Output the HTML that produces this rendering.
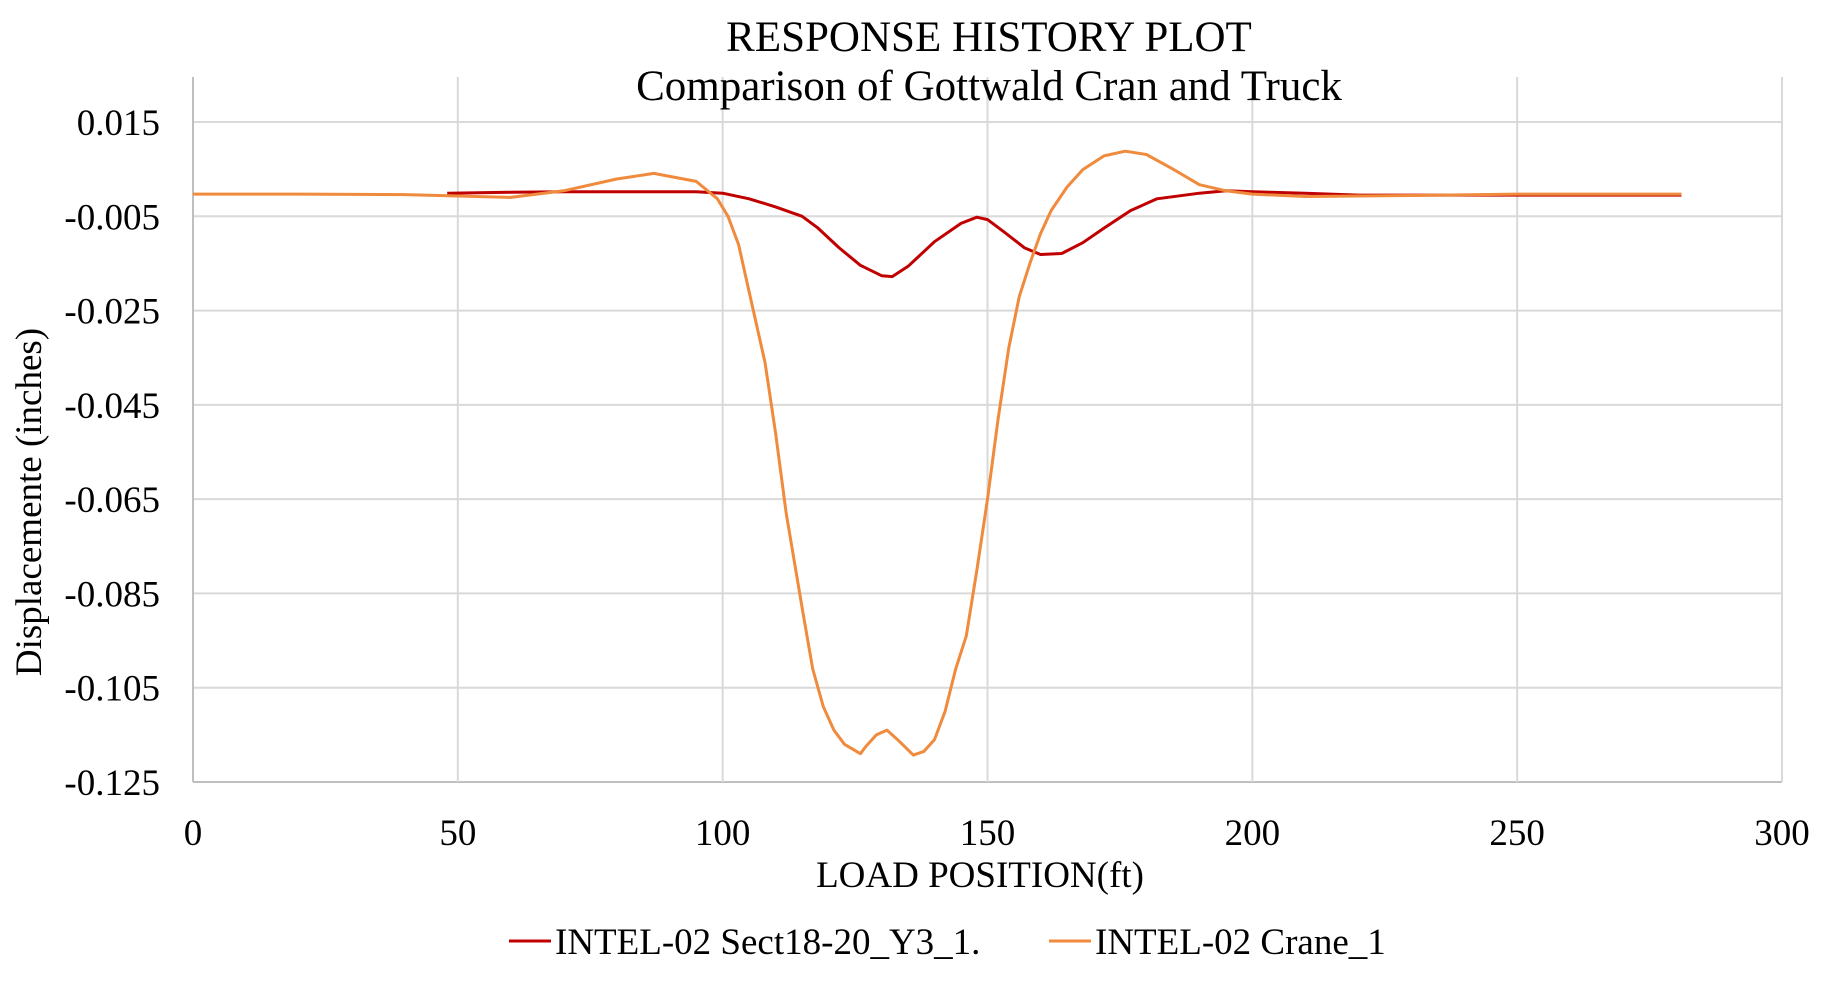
<!DOCTYPE html>
<html><head><meta charset="utf-8"><style>
html,body{margin:0;padding:0;background:#fff;}
svg{display:block;font-family:"Liberation Serif","Times New Roman",serif;}
</style></head><body>
<svg width="1823" height="1004" viewBox="0 0 1823 1004">
<g id="grid"></g>
<g id="axes"></g>
<g id="series"></g>
<text x="989" y="51" text-anchor="middle" font-size="43">RESPONSE HISTORY PLOT</text>
<text x="989" y="100" text-anchor="middle" font-size="43">Comparison  of Gottwald Cran and Truck</text>
<text x="980" y="887" text-anchor="middle" font-size="37">LOAD POSITION(ft)</text>
<text transform="translate(41,502) rotate(-90)" text-anchor="middle" font-size="37">Displacemente (inches)</text>
<g>
<line x1="509" y1="941" x2="551" y2="941" stroke="#c00000" stroke-width="3"/>
<text x="555" y="954" font-size="37">INTEL-02 Sect18-20_Y3_1.</text>
<line x1="1049" y1="941" x2="1091" y2="941" stroke="#f08a3c" stroke-width="3"/>
<text x="1095" y="954" font-size="37">INTEL-02 Crane_1</text>
</g>
</svg>
<script>
const xTicks=[0,50,100,150,200,250,300];
const yTicks=[0.015,-0.005,-0.025,-0.045,-0.065,-0.085,-0.105,-0.125];
const yTickLabels=["0.015","-0.005","-0.025","-0.045","-0.065","-0.085","-0.105","-0.125"];
const craneX=[0,20,40,50,60,70,80,87,95,99,101,103,105,108,110,112,115,117,119,121,123,126,127,129,131,133,136,138,140,142,144,146,148,150,152,154,156,158,160,162,165,168,172,176,180,185,190,195,200,210,230,250,281];
const craneY=[-0.0003,-0.0003,-0.0004,-0.0007,-0.001,0.0004,0.0029,0.0041,0.0024,-0.0013,-0.005,-0.011,-0.021,-0.036,-0.051,-0.068,-0.088,-0.101,-0.109,-0.114,-0.117,-0.119,-0.1175,-0.115,-0.114,-0.116,-0.1193,-0.1185,-0.116,-0.110,-0.101,-0.094,-0.080,-0.065,-0.048,-0.033,-0.022,-0.015,-0.0087,-0.0038,0.0012,0.0049,0.0078,0.0088,0.0081,0.005,0.0017,0.0004,-0.0003,-0.0008,-0.0006,-0.0003,-0.0003];
const sectX=[48,60,70,80,90,95,100,105,110,115,118,122,126,130,132,135,140,145,148,150,153,157,160,164,168,172,177,182,190,195,200,210,220,250,281];
const sectY=[-0.0001,0.0001,0.0002,0.0002,0.0002,0.0002,-0.0001,-0.0013,-0.003,-0.005,-0.0075,-0.0117,-0.0154,-0.0176,-0.0178,-0.0156,-0.0104,-0.0065,-0.0052,-0.0057,-0.0082,-0.0117,-0.0131,-0.0129,-0.0106,-0.0075,-0.0038,-0.0013,-0.0001,0.0004,0.0002,-0.0001,-0.0005,-0.0005,-0.0005];
const NS="http://www.w3.org/2000/svg";
const L=193,R=1782,T=77,B=782;
function sx(v){return L+(v-0)/(300-0)*(R-L);}
function sy(v){return 122+(0.015-v)/0.14*(B-122);}
const grid=document.getElementById('grid'),axes=document.getElementById('axes'),ser=document.getElementById('series');
function mk(tag,attrs,parent){const e=document.createElementNS(NS,tag);for(const k in attrs)e.setAttribute(k,attrs[k]);parent.appendChild(e);return e;}
yTicks.forEach((v,i)=>{
 const g=mk('line',{x1:L,x2:R,y1:sy(v),y2:sy(v),stroke:i==yTicks.length-1?'#bfbfbf':'#d9d9d9','stroke-width':2},grid);
 
 
 const t=mk('text',{x:160,y:sy(v)+13,'text-anchor':'end','font-size':37},axes);
 t.textContent=yTickLabels[i];
 
 
});
xTicks.forEach((v,i)=>{
 const g=mk('line',{x1:sx(v),x2:sx(v),y1:T,y2:B,stroke:i==0?'#bfbfbf':'#d9d9d9','stroke-width':2},grid);
 
 
 const t=mk('text',{x:sx(v),y:845,'text-anchor':'middle','font-size':37},axes);
 t.textContent=String(v);
 
 
});
function path(xs,ys){return xs.map((x,i)=>(i?'L':'M')+sx(x).toFixed(1)+','+sy(ys[i]).toFixed(1)).join('');}
const p1=mk('path',{d:path(sectX,sectY),fill:'none',stroke:'#c00000','stroke-width':3,'stroke-linejoin':'round'},ser);


const p2=mk('path',{d:path(craneX,craneY),fill:'none',stroke:'#f08a3c','stroke-width':3,'stroke-linejoin':'round'},ser);


</script>
</body></html>
